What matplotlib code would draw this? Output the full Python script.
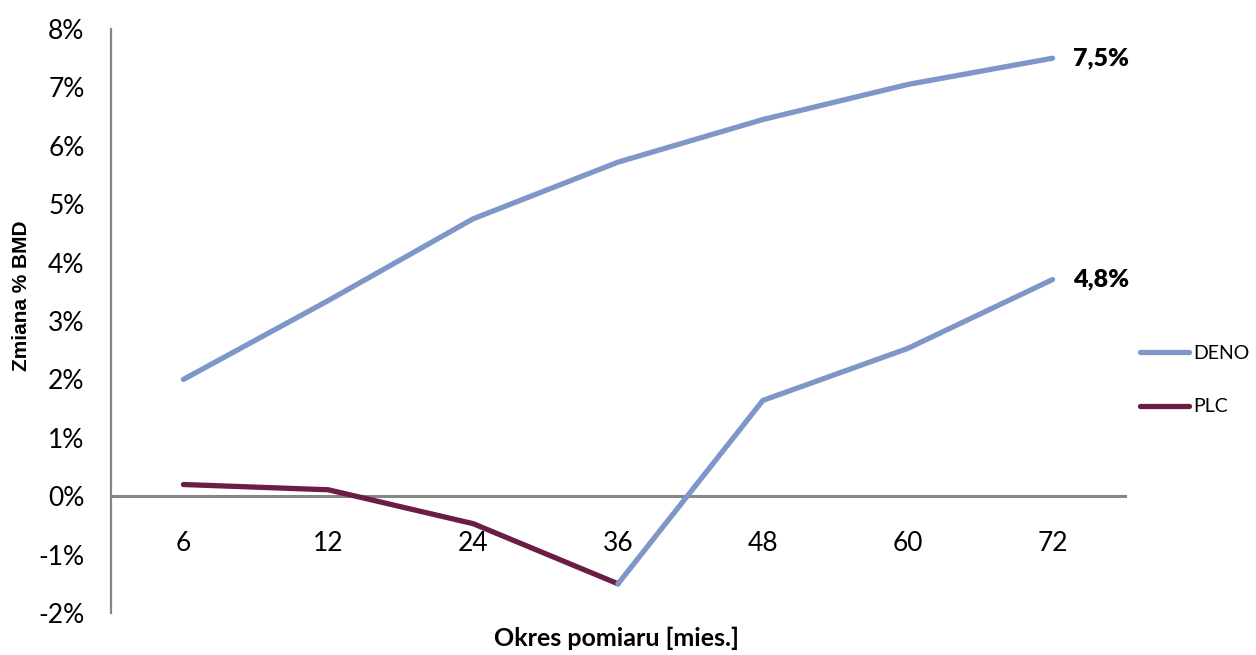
import matplotlib
matplotlib.use("Agg")
import matplotlib.pyplot as plt
from matplotlib.lines import Line2D

# Measurement periods (months) and BMD percent change
months = ["6", "12", "24", "36", "48", "60", "72"]
deno = [2.0, 3.35, 4.75, 5.72, 6.45, 7.05, 7.5]
plc = [0.2, 0.11, -0.47, -1.5]
plc_to_deno = [-1.5, 1.64, 2.53, 3.71]   # placebo group switched to denosumab at 36 months
yticks = [-2, -1, 0, 1, 2, 3, 4, 5, 6, 7, 8]
end_labels = ["7,5%", "4,8%"]

BLUE = "#7F96C9"
MAROON = "#6B1E45"
GRAY = "#868686"

plt.rcParams["font.family"] = ["Lato", "DejaVu Sans"]

fig = plt.figure(figsize=(12.56, 6.55), dpi=100)
ax = fig.add_axes([111 / 1256, 1 - 613 / 655, 1014 / 1256, 584 / 655])

x = list(range(len(months)))
ax.plot(x, deno, color=BLUE, lw=3.8, solid_capstyle="round", zorder=3)
ax.plot(x[:len(plc)], plc, color=MAROON, lw=3.8, solid_capstyle="round", zorder=3)
ax.plot(x[3:], plc_to_deno, color=BLUE, lw=3.8, solid_capstyle="round", zorder=3)

ax.set_xlim(-0.5, len(months) - 0.5)
ax.set_ylim(-2, 8)

for s in ("top", "right"):
    ax.spines[s].set_visible(False)
ax.spines["left"].set_color(GRAY)
ax.spines["left"].set_linewidth(1.6)
ax.spines["bottom"].set_position(("data", 0))
ax.spines["bottom"].set_color(GRAY)
ax.spines["bottom"].set_linewidth(2.2)

ax.set_yticks(yticks)
ax.set_yticklabels([f"{v}%" for v in yticks])
ax.set_xticks(x)
ax.set_xticklabels(months)
ax.tick_params(axis="y", length=0, pad=19, labelsize=19)
ax.tick_params(axis="x", length=0, pad=25, labelsize=19)

ax.text(x[-1] + 0.14, deno[-1], end_labels[0], fontsize=18, fontweight="heavy",
        va="center", ha="left")
ax.text(x[-1] + 0.14, plc_to_deno[-1], end_labels[1], fontsize=18, fontweight="heavy",
        va="center", ha="left")

fig.text(22 / 1256, 1 - 296 / 655, "Zmiana % BMD", rotation=90, fontsize=15,
         fontweight="bold", ha="center", va="center", family=["Liberation Sans"])
fig.text(617 / 1256, 1 - 638 / 655, "Okres pomiaru [mies.]", fontsize=18,
         fontweight="bold", ha="center", va="center")

handles = [Line2D([], [], color=BLUE, lw=3.8, solid_capstyle="round"),
           Line2D([], [], color=MAROON, lw=3.8, solid_capstyle="round")]
fig.legend(handles, ["DENO", "PLC"], loc="center left",
           bbox_to_anchor=(1140 / 1256, 1 - 380 / 655), frameon=False,
           fontsize=14, handlelength=2.5, handletextpad=0.25, labelspacing=1.9,
           borderpad=0, borderaxespad=0)

fig.savefig("out.png", dpi=100)
